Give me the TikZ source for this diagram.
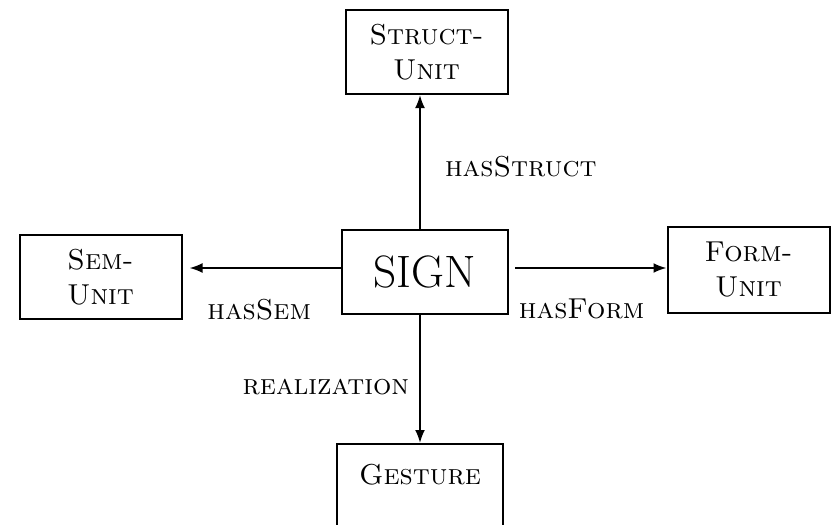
\documentclass[tikz,border=0pt]{standalone}
\usepackage{tikz}
\usetikzlibrary{positioning,arrows.meta}

\begin{document}
\begin{tikzpicture}[x=0.5pt, y=-0.5pt, >={Latex[length=6.5pt, width=5pt]},
      unitbox/.style={draw, line width=1pt, minimum width=81pt, minimum height=42pt, align=center,
                      font=\fontsize{14.4}{17.5}\selectfont\scshape},
      rel/.style={font=\fontsize{14.4}{17}\selectfont\scshape, inner sep=0pt}]
      \clip (0, 0) rectangle (833, 524);
      \node [unitbox] (struct) at (426.5, 52) {Struct-\\Unit};
      \node [unitbox] (sem) at (100.5, 277) {Sem-\\Unit};
      \node [unitbox, minimum width=83pt, font=\fontsize{22.7}{26}\selectfont] (sign) at (425, 271.5) {SIGN};
      \node [unitbox, minimum height=43pt] (form) at (748.5, 270) {Form-\\Unit};
      \node [unitbox, minimum width=83pt] (gesture) at (420, 486) {Gesture\\[-6pt]\phantom{U}};
      \coordinate (signw) at ([yshift=1.75pt]sign.west);
      \coordinate (signe) at ([xshift=3pt, yshift=1.75pt]sign.east);
      \draw [line width=1pt, ->] (sign.north -| gesture.north) -- node [rel, pos=.46, right=12pt] {hasStruct} (struct.south -| gesture.north);
      \draw [line width=1pt, ->] (signw) -- node [rel, pos=.54, below=15pt] {hasSem} ([xshift=3.5pt]sem.east |- signw);
      \draw [line width=1pt, ->] (signe) -- node [rel, pos=.44, below=15pt] {hasForm} (form.west |- signe);
      \draw [line width=1pt, ->] (sign.south -| gesture.north) -- node [rel, pos=.565, left=5pt] {realization} (gesture.north);
\end{tikzpicture}
\end{document}
